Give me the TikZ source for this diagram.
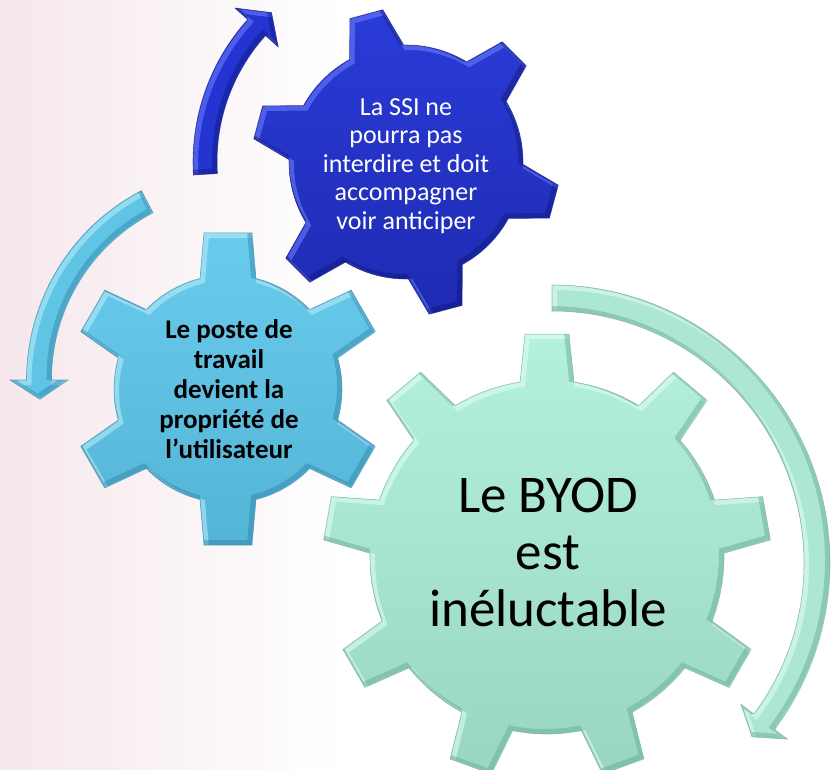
\documentclass[tikz,border=0pt]{standalone}
\usepackage{fontspec}
\setmainfont{Carlito}
\definecolor{bgpink}{RGB}{245,231,236}
\definecolor{dkTop}{RGB}{42,60,216}
\definecolor{dkBot}{RGB}{30,42,178}
\definecolor{dkLight}{RGB}{110,130,255}
\definecolor{dkDark}{RGB}{16,24,120}
\definecolor{mdTop}{RGB}{106,204,236}
\definecolor{mdBot}{RGB}{84,180,214}
\definecolor{mdLight}{RGB}{190,238,252}
\definecolor{mdDark}{RGB}{50,130,165}
\definecolor{lgTop}{RGB}{180,240,222}
\definecolor{lgBot}{RGB}{152,214,195}
\definecolor{lgLight}{RGB}{228,255,246}
\definecolor{lgDark}{RGB}{100,165,145}
\definecolor{arDk}{RGB}{36,52,208}
\definecolor{arMd}{RGB}{96,196,228}
\definecolor{arLg}{RGB}{172,230,212}
\tikzset{
  geartext/.style={align=center, inner sep=0pt},
}
% gear path, relative to its centre
\def\gpath{({\gph-\gdb}:\gr pt) \foreach \k in {1,...,\gn}{ -- ({\gph+(\k-1)*\gst-\gdt}:\gR pt) -- ({\gph+(\k-1)*\gst+\gdt}:\gR pt) -- ({\gph+(\k-1)*\gst+\gdb}:\gr pt) arc[start angle={\gph+(\k-1)*\gst+\gdb}, end angle={\gph+\k*\gst-\gdb}, radius=\gr pt]} -- cycle}
% arrow path, relative to its centre
\def\apath{({\as}:\ao pt) arc[start angle=\as, end angle=\ab, radius=\ao pt] -- ({\ab}:\ah pt) -- ({\at}:\aR pt) -- ({\ab}:\al pt) -- ({\ab}:\ai pt) arc[start angle=\ab, end angle=\as, radius=\ai pt] -- cycle}
% #1 path macro, #2 fill options, #3 light, #4 dark
\newcommand\bevelshape[4]{%
  \path[#2] #1;
  \begin{scope}
    \clip #1;
    \begin{scope}[shift={(2.5,-2.5)}]\draw[#3, line width=5pt, opacity=.55] #1;\end{scope}
    \begin{scope}[shift={(-2.5,2.5)}]\draw[#4, line width=5pt, opacity=.45] #1;\end{scope}
  \end{scope}
  \draw[#4, line width=.6pt, opacity=.6] #1;
}
% cx cy N phase r R wb wt
\newcommand\setgear[8]{%
  \def\gcx{#1}\def\gcy{#2}\def\gn{#3}\def\gph{#4}\def\gr{#5}\def\gR{#6}%
  \pgfmathsetmacro\gst{360/#3}%
  \pgfmathsetmacro\gdb{asin(#7/#5)}%
  \pgfmathsetmacro\gdt{asin(#8/#6)}%
}
% cx cy R w hw start barb tip
\newcommand\setarrow[8]{%
  \def\acx{#1}\def\acy{#2}\def\aR{#3}%
  \pgfmathsetmacro\ao{#3+#4/2}\pgfmathsetmacro\ai{#3-#4/2}%
  \pgfmathsetmacro\ah{#3+#5}\pgfmathsetmacro\al{#3-#5}%
  \def\as{#6}\def\ab{#7}\def\at{#8}%
}
\begin{document}
\begin{tikzpicture}[x=1pt,y=1pt]
\useasboundingbox (0,-769) rectangle (834,0);
\fill[white] (0,-769) rectangle (834,0);
\fill[left color=bgpink, right color=white] (0,-769) rectangle (340,0);

% arrows
\setarrow{406}{-162}{201}{24}{29}{183.5}{138}{132}
\begin{scope}[shift={(\acx,\acy)}]\bevelshape{\apath}{fill=arDk}{dkLight}{dkDark}\end{scope}
\setarrow{240}{-380}{201}{25}{29}{117.5}{180}{185.5}
\begin{scope}[shift={(\acx,\acy)}]\bevelshape{\apath}{fill=arMd}{mdLight}{mdDark}\end{scope}
\setarrow{552}{-563}{265}{26}{29}{90}{-36.8}{-41}
\begin{scope}[shift={(\acx,\acy)}]\bevelshape{\apath}{fill=arLg}{lgLight}{lgDark}\end{scope}

% gears
\setgear{406}{-162}{6}{45}{117}{154}{28}{17}
\begin{scope}[shift={(\gcx,\gcy)}]\bevelshape{\gpath}{top color=dkTop, bottom color=dkBot}{dkLight}{dkDark}\end{scope}
\setgear{228}{-389}{6}{90}{114}{158}{28}{24}
\begin{scope}[shift={(\gcx,\gcy)}]\bevelshape{\gpath}{top color=mdTop, bottom color=mdBot}{mdLight}{mdDark}\end{scope}
\setgear{547}{-557}{9}{90}{177}{224}{27}{22}
\begin{scope}[shift={(\gcx,\gcy)}]\bevelshape{\gpath}{top color=lgTop, bottom color=lgBot}{lgLight}{lgDark}\end{scope}

% texts
\node[geartext, text=white, font=\fontsize{26}{28.5}\selectfont] (tssi) at (406,-166)
  {La SSI ne\\pourra pas\\interdire et doit\\accompagner\\voir anticiper};
\node[geartext, text=black, font=\fontsize{27}{30}\selectfont\bfseries] (tposte) at (229,-389)
  {Le poste de\\travail\\devient la\\propriété de\\l’utilisateur};
\node[geartext, text=black, font=\fontsize{53}{57}\selectfont] (tbyod) at (548,-552)
  {Le BYOD\\est\\inéluctable};
\end{tikzpicture}
\end{document}
